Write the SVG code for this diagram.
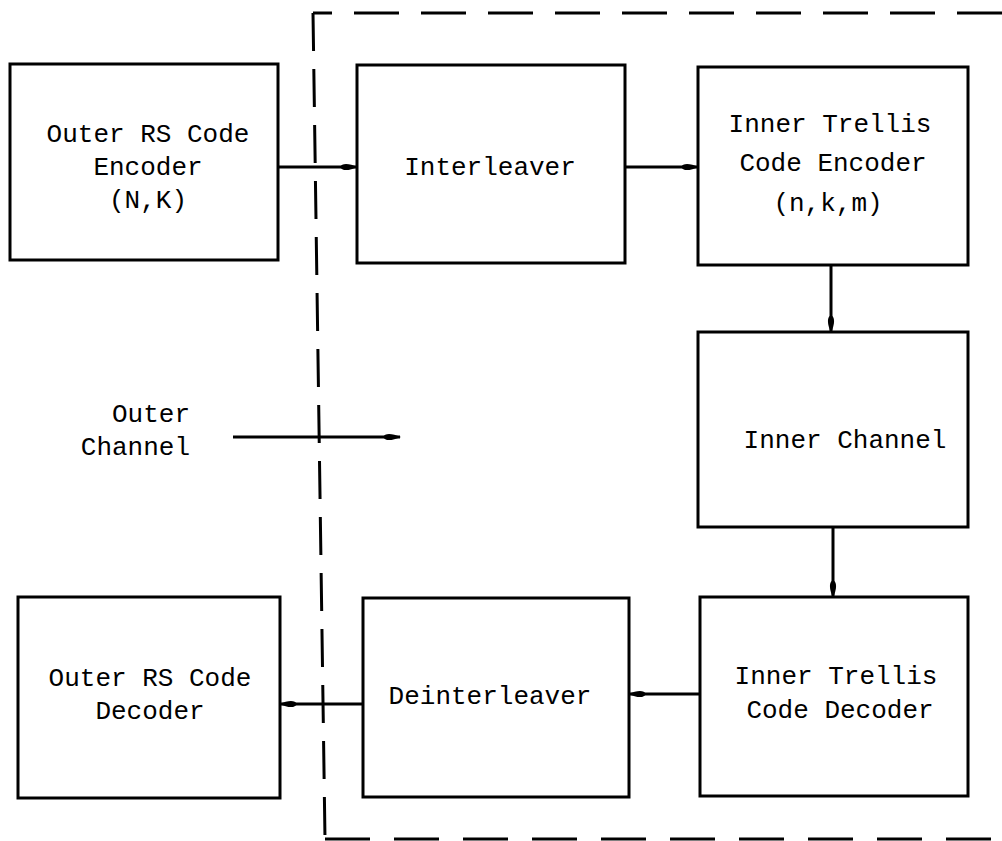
<svg xmlns="http://www.w3.org/2000/svg" width="1002" height="841" viewBox="0 0 1002 841">
<style>
.box{fill:none;stroke:#000;stroke-width:3}
.t{font-family:"Liberation Mono","Courier New",monospace;font-size:26px;fill:#000;text-anchor:middle}
.dash{fill:none;stroke:#000;stroke-width:3}
.c{fill:none;stroke:#000;stroke-width:3;marker-end:url(#ah)}
</style>
<defs>
<marker id="ah" viewBox="0 0 18 10" refX="17" refY="5" markerWidth="18" markerHeight="10" markerUnits="userSpaceOnUse" orient="auto">
<path d="M0,5 C2,1 8,0.8 18,5 C8,9.2 2,9 0,5 Z" fill="#000"/>
</marker>
</defs>
<rect width="1002" height="841" fill="#fff"/>
<g id="boundary">
<path class="dash" d="M1002,13 L313,13" stroke-dasharray="45 22"/>
<path class="dash" d="M313,13 L325,839" stroke-dasharray="38 18"/>
<path class="dash" d="M325,839 L1002,839" stroke-dasharray="45 24"/>
</g>
<g id="outer-encoder">
<rect class="box" x="10" y="64" width="268" height="196"/>
<text class="t" x="148" y="142">Outer RS Code</text>
<text class="t" x="148" y="175">Encoder</text>
<text class="t" x="148" y="208">(N,K)</text>
</g>
<g id="interleaver">
<rect class="box" x="357" y="65" width="268" height="198"/>
<text class="t" x="490" y="175">Interleaver</text>
</g>
<g id="inner-encoder">
<rect class="box" x="698" y="67" width="270" height="198"/>
<text class="t" x="830" y="132">Inner Trellis</text>
<text class="t" x="833" y="171">Code Encoder</text>
<text class="t" x="828" y="211">(n,k,m)</text>
</g>
<g id="inner-channel">
<rect class="box" x="698" y="332" width="270" height="195"/>
<text class="t" x="845" y="448">Inner Channel</text>
</g>
<g id="inner-decoder">
<rect class="box" x="700" y="597" width="268" height="199"/>
<text class="t" x="836" y="684">Inner Trellis</text>
<text class="t" x="840" y="718">Code Decoder</text>
</g>
<g id="deinterleaver">
<rect class="box" x="363" y="598" width="266" height="199"/>
<text class="t" x="490" y="704">Deinterleaver</text>
</g>
<g id="outer-decoder">
<rect class="box" x="18" y="597" width="262" height="201"/>
<text class="t" x="150" y="686">Outer RS Code</text>
<text class="t" x="150" y="719">Decoder</text>
</g>
<g id="outer-channel">
<text class="t" x="190" y="422" style="text-anchor:end">Outer</text>
<text class="t" x="190" y="455" style="text-anchor:end">Channel</text>
</g>
<g id="connectors">
<path class="c" d="M278,167 L357,167"/>
<path class="c" d="M625,167 L698,167"/>
<path class="c" d="M831,265 L831,332"/>
<path class="c" d="M833,527 L833,597"/>
<path class="c" d="M700,694 L629,694"/>
<path class="c" d="M363,704 L280,704"/>
<path class="c" d="M233,437 L400,437"/>
</g>
</svg>
